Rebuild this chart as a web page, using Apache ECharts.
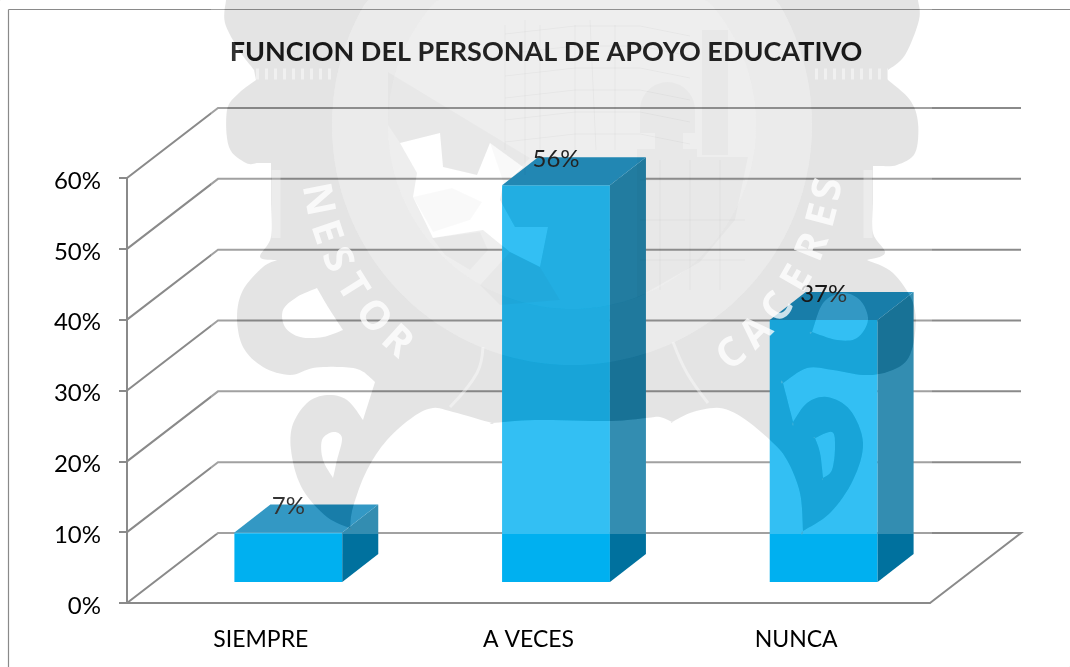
<!DOCTYPE html>
<html><head><meta charset="utf-8">
<style>html,body{margin:0;padding:0;background:#fff}#c{width:1070px;height:667px}</style>
<script src="https://cdn.jsdelivr.net/npm/echarts@6/dist/echarts.min.js"></script></head>
<body><div id="c"></div>
<script>
const categories = ['SIEMPRE', 'A VECES', 'NUNCA'];
const values = [0.07, 0.56, 0.37];
const yTicks = [0, 0.1, 0.2, 0.3, 0.4, 0.5, 0.6];
const titleText = 'FUNCION DEL PERSONAL DE APOYO EDUCATIVO';

const FONT = 'Lato, Carlito, "Open Sans", sans-serif';
const LINE = '#8a8a8a';
const WALL = [91, -70], BASE = [27.5, -21], DEPTH = [36, -28];

/* ---------- watermark outlines (decoration, sits over the chart) ---------- */
function smooth(p) {
  const out = [], n = p.length;
  for (let i = 0; i < n; i++) {
    const a = p[(i - 1 + n) % n], b = p[i], c = p[(i + 1) % n], e = p[(i + 2) % n];
    for (let k = 0; k < 8; k++) {
      const t = k / 8, t2 = t * t, t3 = t2 * t;
      const f = j => 0.5 * (2 * b[j] + (c[j] - a[j]) * t + (2 * a[j] - 5 * b[j] + 4 * c[j] - e[j]) * t2 + (3 * b[j] - a[j] - 3 * c[j] + e[j]) * t3);
      out.push([Math.max(0, Math.min(1070, f(0))), Math.max(0, Math.min(667, f(1)))]);
    }
  }
  return out;
}
function circle(cx, cy, r) { const o = []; for (let i = 0; i < 180; i++) { const a = i / 180 * Math.PI * 2; o.push([cx + r * Math.cos(a), Math.max(0, cy + r * Math.sin(a))]); } return o; }
function area(p) { let s = 0; p.forEach((q, i) => { const r = p[(i + 1) % p.length]; s += q[0] * r[1] - r[0] * q[1]; }); return s; }
function cw(p) { return area(p) > 0 ? p : p.slice().reverse(); }
function ccw(p) { return area(p) < 0 ? p : p.slice().reverse(); }
function d(p) { return 'M' + p.map(q => q[0].toFixed(1) + ' ' + q[1].toFixed(1)).join('L') + 'Z'; }
const ANCHOR = 'M0 0L0.5 0L0 0.5ZM1070 667L1069.5 667L1070 666.5Z';

const silPts = [[226,0],[226,0],[300,0],[400,0],[500,0],[600,0],[700,0],[800,0],[918,0],[918,0],[919,20],[905,55],[888,70],[888,70],[888,80],[888,80],[910,100],[918,123],[915,153],[897,165],[880,166],[873,166],[873,166],[873,200],[873,233],[885,253],[867,260],[867,260],[893,273],[913,303],[915,333],[907,360],[887,372],[863,375],[833,370],[807,368],[783,383],[783,383],[793,422],[793,422],[807,403],[827,397],[850,410],[863,443],[853,480],[830,513],[803,531],[803,531],[800,493],[787,460],[770,440],[743,418],[720,408],[693,412],[672,422],[672,422],[660,417],[646,418],[610,421],[535,420],[492,423],[492,423],[453,412],[433,408],[413,417],[387,440],[367,470],[353,507],[350,528],[350,528],[327,517],[303,490],[292,457],[292,427],[307,403],[327,395],[347,400],[363,420],[363,420],[375,382],[375,382],[360,370],[340,367],[313,368],[290,375],[263,367],[243,347],[237,317],[243,290],[263,267],[277,260],[277,260],[260,257],[271,237],[271,200],[271,163],[271,163],[258,163],[246,163],[229,147],[227,110],[239,93],[256,80],[256,80],[254,70],[254,70],[239,50],[225,23]];
const holes = [
  [[317,288],[317,288],[328,307],[343,330],[343,330],[323,337],[300,337],[285,327],[283,310],[297,297]],
  [[333,432],[342,438],[337,460],[333,478],[333,478],[323,460],[322,440]],
  [[812,332],[812,332],[823,303],[842,293],[860,300],[868,320],[857,338],[837,340]],
  [[815,438],[815,438],[832,432],[835,447],[832,470],[823,478],[823,478],[820,453]]
].map(smooth);
const sil = smooth(silPts);
const facet = [[400,143],[440,133],[443,167],[477,175],[490,143],[523,167],[503,185],[500,200],[515,227],[548,227],[540,267],[510,252],[483,230],[433,238],[413,197],[417,173]];
const outerDisc = circle(572, 125, 240), innerDisc = circle(572, 125, 184);

const whitePath = ANCHOR + d(cw([[211,0],[932,0],[932,534],[211,534]])) + d(ccw(sil)) + holes.map(h => d(cw(h))).join('');
const darkPath = ANCHOR + d(cw(sil)) + d(ccw(outerDisc)) + holes.map(h => d(ccw(h))).join('');
const bandPath = ANCHOR + d(cw(outerDisc)) + d(ccw(innerDisc));
const innerPath = ANCHOR + d(cw(innerDisc)) + d(ccw(facet));
const facetPath = ANCHOR + d(cw(facet));
const dome = [];
for (let i = 0; i <= 20; i++) { const a = Math.PI + i / 20 * Math.PI; dome.push([667.5 + 27.5 * Math.cos(a), 110 + 28 * Math.sin(a)]); }
dome.push([695, 133], [683, 133], [683, 149], [697, 149], [697, 157], [637, 157], [637, 149], [655, 149], [655, 133], [640, 133]);
const shadePath = ANCHOR + [
  [[388,72],[530,158],[504,184],[490,143],[477,175],[443,167],[440,133],[400,143],[388,125]],
  [[413,197],[452,188],[482,202],[470,220],[433,232]],
  [[432,238],[480,232],[488,250],[470,270],[445,255]],
  [[510,252],[540,267],[560,300],[500,305],[480,285]],
  [[637,157],[748,157],[735,220],[700,262],[637,298]],
  dome,
  [[702,30],[728,30],[728,155],[702,155]]
].map(p => d(cw(p))).join('');
const wallLines = [];
[30, 50, 72, 94, 116, 138].forEach(y => wallLines.push([[505, y + 4], [575, y - 4], [640, y - 4], [690, y + 6]]));
[505, 540, 575, 615].forEach(x => wallLines.push([[x, 25], [x, 150]]));
[660, 690, 720].forEach(x => wallLines.push([[x, 160], [x, 290]]));
[180, 220, 260].forEach(y => wallLines.push([[640, y], [745, y]]));
wallLines.push([[525, 20], [525, 175]], [[590, 20], [596, 150]]);
const letters = [
  ['N', 11, 1], ['E', 18.5, 1], ['S', 25, 1], ['T', 32, 1], ['O', 40, 1], ['R', 47.6, 1],
  ['C', 52, -1], ['A', 44.7, -1], ['C', 37.5, -1], ['E', 29.7, -1], ['R', 21.9, -1], ['E', 14.6, -1], ['S', 8.7, -1]
];

function full(path, fill) {
  return { type: 'path', shape: { pathData: path, x: 0, y: 0, width: 1070, height: 667, layout: 'cover' }, style: { fill } };
}
function renderWatermark() {
  const kids = [
    full(whitePath, 'rgba(255,255,255,0.2)'),
    full(darkPath, 'rgba(118,118,118,0.2)'),
    full(bandPath, 'rgba(155,155,155,0.2)'),
    full(innerPath, 'rgba(172,172,172,0.2)'),
    full(facetPath, 'rgba(255,255,255,0.2)'),
    full(shadePath, 'rgba(0,0,0,0.025)')
  ];
  wallLines.forEach(p => kids.push({ type: 'polyline', shape: { points: p }, style: { fill: null, stroke: 'rgba(0,0,0,0.03)', lineWidth: 1 } }));
  [[[483,347],[477,373],[450,407]], [[673,342],[687,373],[708,403]]].forEach(p =>
    kids.push({ type: 'polyline', shape: { points: p, smooth: 0.4 }, style: { fill: null, stroke: 'rgba(255,255,255,0.4)', lineWidth: 3 } }));
  [[276, 170, 276, 238], [868, 170, 868, 238]].forEach(q =>
    kids.push({ type: 'line', shape: { x1: q[0], y1: q[1], x2: q[2], y2: q[3] }, style: { stroke: 'rgba(255,255,255,0.3)', lineWidth: 9 } }));
  [[256, 74, 331, 74], [815, 74, 888, 74]].forEach(q =>
    kids.push({ type: 'line', shape: { x1: q[0], y1: q[1], x2: q[2], y2: q[3] }, style: { stroke: 'rgba(255,255,255,0.45)', lineWidth: 11, lineDash: [3, 6] } }));
  letters.forEach(l => {
    const a = l[1] * Math.PI / 180, r = 260;
    const x = 572 - l[2] * r * Math.cos(a), y = 150 + r * Math.sin(a);
    const rot = (l[2] > 0 ? -(90 - l[1]) : (90 - l[1])) * Math.PI / 180;
    kids.push({ type: 'text', x, y, rotation: rot, style: { text: l[0], fill: 'rgba(255,255,255,0.78)', fontFamily: '"Open Sans"', fontWeight: 'bold', fontSize: 40, textAlign: 'center', textVerticalAlign: 'middle' } });
  });
  return { type: 'group', children: kids };
}

/* ---------- walls and floor ---------- */
function renderWall(params, api) {
  const cs = params.coordSys, y = api.coord([0, api.value(1)])[1];
  const L = cs.x, R = cs.x + cs.width;
  const pts = [[L, y], [L + WALL[0], y + WALL[1]], [R + WALL[0], y + WALL[1]]];
  if (api.value(1) === 0) pts.push([R, y]);
  return { type: 'polyline', shape: { points: pts }, style: { fill: null, stroke: LINE, lineWidth: 2 } };
}

/* ---------- 3D columns ---------- */
function renderBar(params, api) {
  const i = api.value(0), v = api.value(1);
  const base = api.coord([i, 0]), top = api.coord([i, v]);
  const w = api.size([1, 0])[0] * 0.403;
  const x0 = base[0] + BASE[0] - w / 2, x1 = x0 + w;
  const yb = base[1] + BASE[1], yt = top[1] + BASE[1];
  const dx = DEPTH[0], dy = DEPTH[1];
  return { type: 'group', children: [
    { type: 'polygon', shape: { points: [[x0, yb], [x1, yb], [x1, yt], [x0, yt]] }, style: { fill: '#00B0F0' } },
    { type: 'polygon', shape: { points: [[x1, yb], [x1 + dx, yb + dy], [x1 + dx, yt + dy], [x1, yt]] }, style: { fill: '#00719E' } },
    { type: 'polygon', shape: { points: [[x0, yt], [x1, yt], [x1 + dx, yt + dy], [x0 + dx, yt + dy]] }, style: { fill: '#007FB6' } },
    { type: 'text', style: { text: Math.round(v * 100) + '%', x: (x0 + x1) / 2, y: yt - 26, fill: '#000', font: '24px ' + FONT, textAlign: 'center', textVerticalAlign: 'middle' } }
  ] };
}

const chart = echarts.init(document.getElementById('c'), null, { renderer: 'canvas', width: 1070, height: 667 });
chart.setOption({
  animation: false,
  backgroundColor: '#fff',
  title: { text: titleText, left: 541, top: 34, textAlign: 'center', textStyle: { fontFamily: FONT, fontWeight: 'bold', fontSize: 27, color: '#000' } },
  graphic: [
    { type: 'line', z: 0, silent: true, shape: { x1: 8.5, y1: 9.5, x2: 1070, y2: 9.5 }, style: { stroke: LINE, lineWidth: 1.2 } },
    { type: 'line', z: 0, silent: true, shape: { x1: 8.5, y1: 9.5, x2: 8.5, y2: 667 }, style: { stroke: LINE, lineWidth: 1.2 } }
  ],
  grid: { left: 127, right: 140, top: 178, bottom: 64 },
  xAxis: { type: 'category', data: categories, axisTick: { length: 9, lineStyle: { color: LINE, width: 2 } },
    axisLine: { lineStyle: { color: LINE, width: 2 } },
    axisLabel: { margin: 25, fontFamily: FONT, fontSize: 23, color: '#000' } },
  yAxis: { type: 'value', min: 0, max: 0.6, interval: 0.1, splitLine: { show: false },
    axisLine: { show: true, lineStyle: { color: LINE, width: 2 } }, axisTick: { show: true, length: 8, lineStyle: { color: LINE, width: 2 } },
    axisLabel: { margin: 26, formatter: v => '{a|' + Math.round(v * 100) + '%}',
      rich: { a: { fontFamily: FONT, fontSize: 24, color: '#000', padding: [6, 0, 0, 0] } } } },
  series: [
    { type: 'custom', z: 1, silent: true, renderItem: renderWall, data: yTicks.map(v => [0, v]), encode: { x: 0, y: 1 }, clip: false },
    { type: 'custom', z: 3, silent: true, renderItem: renderBar, data: values.map((v, i) => [i, v]), encode: { x: 0, y: 1 }, clip: false },
    { type: 'custom', z: 10, silent: true, coordinateSystem: 'none', renderItem: renderWatermark, data: [[0]] }
  ]
});
</script></body></html>
